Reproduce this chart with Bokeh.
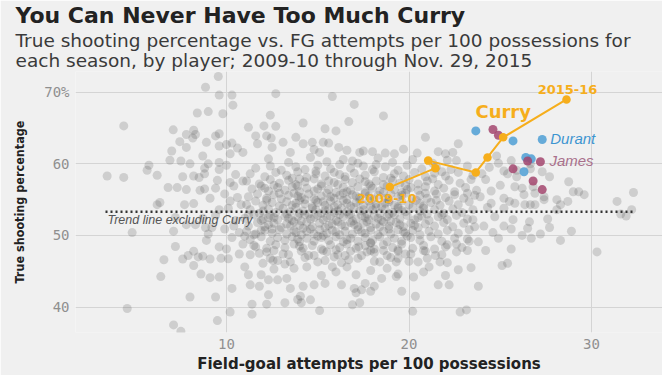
from bokeh.plotting import figure
from bokeh.models import Range1d, FixedTicker, Label, Title
from bokeh.embed import file_html
from bokeh.resources import INLINE

# ---------------- texts ----------------
title_text = "You Can Never Have Too Much Curry"
subtitle_lines = ["True shooting percentage vs. FG attempts per 100 possessions for",
                  "each season, by player; 2009-10 through Nov. 29, 2015"]
x_title = "Field-goal attempts per 100 possessions"
y_title = "True shooting percentage"
x_ticks = [10, 20, 30]
y_ticks = [40, 50, 60, 70]
y_tick_overrides = {70: "70%"}
trend_label = "Trend line excluding Curry"

# ---------------- highlighted players ----------------
curry_seasons = ["2009-10", "2010-11", "2011-12", "2012-13", "2013-14", "2014-15", "2015-16"]
curry_x = [18.95, 21.45, 21.05, 23.66, 24.3, 25.16, 28.63]
curry_y = [56.75, 59.4, 60.45, 58.8, 60.9, 63.7, 69.0]

durant_x = [23.66, 25.7, 27.3, 26.4, 26.7, 26.3]
durant_y = [64.6, 63.2, 63.4, 60.9, 60.7, 58.9]

james_x = [24.6, 24.9, 26.5, 27.2, 25.7, 26.8, 27.3]
james_y = [64.8, 64.0, 60.4, 60.3, 59.3, 57.6, 56.4]

trend_x = [3.37, 32.3]
trend_y = [53.3, 53.3]

# ---------------- all other player-seasons (x = FGA/100, y = TS%) ----------------
cloud_upper = [(9.55,72.2),(8.85,70.7),(9.6,69.6),(10.3,69.6),(10.35,68.2),(8.4,67.1),(9.0,67.3),(9.8,67.0),
 (4.37,65.3),(7.08,64.75),(7.8,64.1),(8.2,64.7),(8.3,64.1),(8.15,63.6),(9.4,63.9),(9.6,64.2),(7.44,63.1),
 (8.9,63.0),(9.6,62.5),(10.0,62.7),(10.3,62.9),(10.6,62.2),(10.9,61.6),(10.2,61.4),(7.0,61.8),(7.8,62.3),
 (8.7,61.1),(6.9,60.5),(7.5,60.4),(8.0,60.0),(9.0,60.0),(9.6,60.2),(5.75,59.8),
 (11.2,65.1),(12.05,65.3),(12.4,66.8),(12.7,65.25),(11.6,63.9),(12.2,63.9),(12.45,63.6),(11.7,62.8),(12.5,62.3),
 (12.7,69.8),(15.8,69.4),(17.0,68.3),(18.6,66.7),(14.2,65.7),(16.7,65.9),(15.4,64.9),(16.0,64.6),(13.8,63.7),
 (20.9,63.7),(22.7,62.8),(21.6,61.7),(22.4,61.6),(20.45,61.5),(19.7,62.05),
 (13.1,63.0),(14.7,63.0),(15.3,63.0),(15.6,62.9),(16.15,62.3),(17.3,61.6),(18.0,61.7),(18.7,61.5),(14.2,62.8),
 (13.5,61.6),(14.8,62.0),(15.1,61.6),(16.6,61.9),(17.5,61.8),(19.2,61.4),(22.0,61.4),(22.6,60.45),
 (24.8,61.1),(24.9,60.1),(25.6,60.45)]

cloud_left = [(5.65,59.1),(6.2,58.4),(3.46,58.3),(4.37,58.1),(7.6,58.2),(8.2,58.3),(8.5,58.1),(8.8,58.6),
 (6.8,56.7),(7.3,56.7),(7.8,56.4),(8.55,56.3),(8.8,56.5),(9.4,56.6),(8.8,59.4),(9.6,59.2),(10.0,59.8),
 (10.5,58.5),(10.9,57.6),(10.4,56.9),(9.9,55.8),(10.6,55.3),(10.2,54.8),
 (6.2,54.3),(6.35,54.6),(7.7,54.3),(8.2,54.45),(4.83,50.4),(7.1,50.6),(7.2,48.45),(6.57,46.6),(7.6,46.7),
 (7.9,47.2),(8.2,47.8),(8.45,47.0),(8.7,47.1),(9.1,46.7),(8.2,45.8),(8.6,44.6),(9.1,44.1),(9.6,44.2),(6.4,44.25),
 (8.85,51.1),(9.0,50.2),(8.9,49.3),(9.6,48.4),(10.0,48.1),(10.1,46.75),(10.7,47.4),(9.7,46.8),(9.2,51.1),
 (9.9,50.9),(10.3,49.7),(10.9,48.8),(8.3,51.5),(7.8,51.5),(8.7,52.4),(9.4,52.8),(7.2,52.5),(10.1,53.8),
 (10.8,54.3),(10.5,52.1),(9.6,53.6),(9.1,55.2),(10.4,51.3),(10.7,50.4),(9.5,57.7),(10.2,57.4)]

cloud_lower = [(4.56,39.8),(7.1,37.5),(7.5,36.6),(9.5,38.1),(10.2,39.3),(11.4,39.0),(11.4,40.4),(12.2,40.4),
 (14.1,40.6),(14.6,41.0),(15.1,39.5),(16.9,40.3),(17.3,40.6),(20.2,39.4),(22.8,39.3),(23.15,39.6),(8.0,41.4),
 (9.4,41.4),(20.35,41.5),(19.6,42.2),(13.2,40.6),(13.9,41.05),(14.05,41.5),(21.6,43.1),(22.2,43.1),(22.0,44.4),
 (20.25,44.2),(23.8,42.9),(23.4,45.5),(10.3,42.6),(11.3,43.1),(11.8,42.9),(12.3,41.7),(11.2,44.5),(11.9,44.5),
 (12.3,43.8),(11.0,45.6),(15.4,43.3),(16.3,43.1),(14.8,43.1),(14.2,42.9),(13.5,42.6),(12.8,43.8),(13.3,44.0),
 (17.1,42.0),(17.4,42.4),(17.9,42.2),(18.1,42.9),(17.6,43.3),(17.0,42.6),(18.8,45.4),(19.3,44.25),(19.4,44.6),
 (13.7,45.4),(14.4,45.6),(15.8,45.6),(16.0,44.9),(16.6,45.6),(17.1,44.5),(17.9,45.1),(21.1,45.6),(15.2,44.4),
 (18.5,44.0),(20.8,44.9),(22.7,45.2),(12.6,45.3)]

cloud_midlow = [(12.8,46.5),(13.2,46.0),(15.0,46.3),(18.4,46.3),(13.1,47.4),(14.5,47.2),(15.3,47.9),(16.5,47.2),
 (17.25,48.4),(17.7,47.7),(18.6,47.9),(19.8,47.4),(20.8,47.9),(21.45,47.2),(22.0,48.4),(22.6,48.8),(23.2,47.9),
 (20.5,46.3),(21.7,46.3),(19.3,46.3),(19.4,46.8),(12.0,46.1),(12.55,46.5),(11.3,47.3),(11.6,48.4),(12.2,47.7),
 (11.9,52.1),(12.3,52.5),(11.9,50.7),(12.5,50.9),(11.5,50.1),(11.0,49.9),(11.2,52.8)]

cloud_right = [(25.9,59.1),(25.2,59.0),(26.65,60.0),(27.3,58.9),(28.75,57.5),(25.9,58.2),(26.65,59.3),(27.7,58.2),
 (26.8,56.8),(26.3,55.7),(25.8,54.5),(26.65,54.3),(27.4,55.0),(28.1,53.6),(29.0,56.1),(29.3,56.1),(29.6,55.7),
 (31.4,54.75),(31.9,52.7),(32.3,56.0),(32.2,53.6),(31.6,53.0),(30.3,47.7),(28.9,50.6),(28.3,49.3),(27.7,51.1),
 (27.6,52.3),(28.3,54.3),(28.7,54.75),(28.1,55.0),(26.6,51.9),(26.5,51.0),(26.2,50.0),(26.7,49.6),(25.6,48.1),
 (25.1,45.8),(25.4,46.1),(24.2,47.9),(23.2,49.5),(23.8,49.1),(24.6,50.4),(24.1,51.3),(23.5,52.2),(23.2,55.9),
 (23.9,55.4),(24.5,54.5),(25.2,55.2),(25.2,53.8),(25.5,54.75),(25.7,52.2),(25.2,51.3),(25.6,50.9),(26.35,54.3),
 (26.9,54.3),(25.8,56.8),(26.2,56.6),(26.9,55.9),(27.4,55.4),(24.2,57.8),(24.0,58.6),(25.4,58.6),(25.0,57.0),
 (24.5,56.2),(24.7,52.6),(24.3,53.9),(24.9,49.6),(27.2,50.2),(24.4,59.5)]

cloud_core_top = [(12.3,60.7),(13.4,60.2),(14.6,60.9),(15.5,60.3),(16.4,60.6),(17.2,60.1),(18.3,60.8),(19.1,60.2),
 (20.2,60.6),(21.3,60.1),(22.1,60.5),(16.9,60.4),
 (11.6,59.4),(12.4,59.7),(13.0,59.1),(13.8,59.6),(14.3,59.2),(15.0,59.8),(15.7,59.3),(16.2,59.9),(16.8,59.4),
 (17.5,59.7),(18.0,59.2),(18.7,59.6),(19.4,59.1),(19.9,59.8),(20.7,59.3),(21.5,59.6),(22.3,59.2),(23.2,59.7),
 (14.9,59.0),(18.2,59.9),
 (11.3,58.6),(12.1,58.2),(12.7,58.8),(13.3,58.4),(13.9,58.9),(14.4,58.1),(14.9,58.6),(15.4,58.3),(15.9,58.8),
 (16.5,58.2),(17.0,58.7),(17.6,58.4),(18.1,58.9),(18.6,58.1),(19.2,58.6),(19.7,58.3),(20.3,58.8),(20.9,58.2),
 (21.4,58.7),(22.0,58.3),(22.7,58.8),(23.5,58.4),(16.2,58.5),(13.6,58.0),(19.0,58.0),(21.8,58.9),
 (11.1,57.6),(11.8,57.2),(12.4,57.8),(12.9,57.3),(13.4,57.7),(13.8,57.1),(14.3,57.5),(14.8,57.9),(15.2,57.2),
 (15.6,57.6),(16.1,57.1),(16.5,57.8),(16.9,57.4),(17.3,57.9),(17.8,57.2),(18.2,57.6),(18.6,57.1),(19.1,57.7),
 (19.5,57.3),(20.0,57.8),(20.5,57.2),(21.0,57.6),(21.6,57.1),(22.2,57.7),(22.8,57.3),(23.4,57.8),(14.0,57.9),
 (15.9,57.4),(17.6,57.5),(19.8,57.0),(12.6,57.0),(21.3,57.9),
 (11.4,56.5),(11.9,56.9),(12.3,56.2),(12.8,56.7),(13.2,56.3),(13.6,56.8),(14.0,56.1),(14.4,56.6),(14.8,56.2),
 (15.2,56.9),(15.6,56.4),(16.0,56.0),(16.4,56.7),(16.8,56.3),(17.2,56.8),(17.6,56.1),(18.0,56.6),(18.4,56.2),
 (18.8,56.9),(19.2,56.4),(19.6,56.0),(20.1,56.7),(20.5,56.3),(20.9,56.8),(21.4,56.2),(21.9,56.6),(22.5,56.1),
 (23.1,56.7),(23.7,56.3),(15.0,56.5),(16.6,56.1),(17.9,56.9),(13.9,56.9),(19.9,56.4),(12.1,56.6),(18.6,56.0)]

cloud_core_mid = [(11.2,55.4),(11.7,55.8),(12.2,55.2),(12.6,55.7),(13.0,55.1),(13.4,55.6),(13.7,55.9),(14.1,55.3),
 (14.5,55.8),(14.8,55.1),(15.2,55.5),(15.5,55.9),(15.9,55.2),(16.2,55.6),(16.6,55.0),(16.9,55.7),(17.3,55.3),
 (17.6,55.9),(18.0,55.1),(18.3,55.6),(18.7,55.2),(19.0,55.8),(19.4,55.4),(19.8,55.9),(20.2,55.1),(20.6,55.6),
 (21.0,55.2),(21.5,55.8),(22.0,55.3),(22.5,55.7),(23.0,55.2),(23.6,55.6),(13.9,55.5),(15.7,55.4),(17.1,55.5),
 (18.9,55.0),(14.3,55.0),(16.4,55.9),(19.6,55.6),(12.9,55.9),(20.9,55.9),(17.8,55.5),
 (11.1,54.3),(11.6,54.8),(12.0,54.2),(12.5,54.6),(12.9,54.1),(13.3,54.7),(13.6,54.2),(14.0,54.9),(14.3,54.4),
 (14.7,54.0),(15.0,54.6),(15.4,54.2),(15.7,54.8),(16.1,54.3),(16.4,54.9),(16.8,54.1),(17.1,54.6),(17.5,54.2),
 (17.8,54.8),(18.2,54.4),(18.5,54.0),(18.9,54.7),(19.2,54.2),(19.6,54.8),(20.0,54.3),(20.4,54.9),(20.8,54.1),
 (21.2,54.6),(21.7,54.2),(22.2,54.8),(22.7,54.3),(23.3,54.7),(13.8,54.5),(15.9,54.0),(17.3,54.9),(18.7,54.5),
 (14.9,54.9),(16.6,54.5),(19.4,54.0),(12.2,54.9),(20.6,54.5),(15.3,54.7),(17.9,54.1),(21.5,54.9),
 (11.3,53.6),(11.8,53.1),(12.3,53.7),(12.7,53.2),(13.1,53.8),(13.5,53.3),(13.8,53.9),(14.2,53.4),(14.5,53.0),
 (14.9,53.6),(15.2,53.1),(15.6,53.7),(15.9,53.2),(16.3,53.8),(16.6,53.3),(17.0,53.9),(17.3,53.4),(17.7,53.0),
 (18.0,53.6),(18.4,53.1),(18.7,53.7),(19.1,53.2),(19.4,53.8),(19.8,53.3),(20.2,53.9),(20.6,53.4),(21.0,53.0),
 (21.4,53.6),(21.9,53.1),(22.4,53.7),(22.9,53.2),(23.5,53.6),(14.0,53.1),(15.4,53.5),(16.8,53.0),(18.2,53.9),
 (13.3,53.0),(17.5,53.6),(19.6,53.5),(16.1,53.4),(20.8,53.8),(14.7,53.8),(18.9,53.0),(12.0,53.4),
 (11.0,52.4),(11.5,52.9),(12.0,52.3),(12.4,52.8),(12.8,52.2),(13.2,52.7),(13.6,52.1),(13.9,52.6),(14.3,52.9),
 (14.6,52.3),(15.0,52.8),(15.3,52.2),(15.7,52.7),(16.0,52.1),(16.4,52.6),(16.7,52.9),(17.1,52.3),(17.4,52.8),
 (17.8,52.2),(18.1,52.7),(18.5,52.1),(18.8,52.6),(19.2,52.9),(19.5,52.3),(19.9,52.8),(20.3,52.2),(20.7,52.7),
 (21.1,52.1),(21.6,52.6),(22.1,52.2),(22.6,52.8),(23.2,52.3),(13.4,52.4),(15.5,52.5),(17.6,52.5),(19.0,52.0),
 (14.1,52.0),(16.2,52.9),(18.3,52.4),(20.5,52.5),(12.6,52.5),(14.8,52.5),(16.9,52.0),(21.8,52.9)]

cloud_core_low = [(11.2,51.3),(11.7,51.8),(12.1,51.2),(12.6,51.7),(13.0,51.1),(13.3,51.6),(13.7,51.9),(14.0,51.4),
 (14.4,51.8),(14.7,51.2),(15.1,51.7),(15.4,51.1),(15.8,51.6),(16.1,51.9),(16.5,51.3),(16.8,51.8),(17.2,51.2),
 (17.5,51.7),(17.9,51.1),(18.2,51.6),(18.6,51.9),(18.9,51.3),(19.3,51.8),(19.7,51.2),(20.1,51.7),(20.5,51.1),
 (20.9,51.6),(21.4,51.3),(21.9,51.8),(22.4,51.2),(23.0,51.7),(23.6,51.2),(13.5,51.3),(15.6,51.4),(17.0,51.5),
 (18.4,51.2),(14.2,51.0),(16.3,51.5),(19.5,51.5),(12.3,51.5),(20.3,51.4),(17.7,51.9),
 (11.1,50.6),(11.6,50.2),(12.1,50.7),(12.5,50.3),(12.9,50.8),(13.3,50.2),(13.7,50.7),(14.1,50.1),(14.4,50.6),
 (14.8,50.2),(15.1,50.8),(15.5,50.3),(15.8,50.7),(16.2,50.1),(16.5,50.6),(16.9,50.2),(17.2,50.8),(17.6,50.3),
 (17.9,50.7),(18.3,50.1),(18.6,50.6),(19.0,50.2),(19.4,50.8),(19.8,50.3),(20.2,50.7),(20.6,50.1),(21.1,50.6),
 (21.6,50.2),(22.1,50.7),(22.7,50.3),(23.3,50.8),(14.6,50.9),(16.0,50.5),(17.4,50.5),(18.9,50.9),(13.8,50.4),
 (15.3,50.0),(19.7,50.5),
 (11.3,49.4),(11.9,49.8),(12.4,49.2),(12.8,49.7),(13.2,49.3),(13.6,49.8),(14.0,49.1),(14.4,49.6),(14.8,49.2),
 (15.2,49.7),(15.6,49.3),(16.0,49.8),(16.4,49.1),(16.8,49.6),(17.2,49.2),(17.6,49.7),(18.0,49.3),(18.4,49.8),
 (18.8,49.1),(19.2,49.6),(19.6,49.2),(20.1,49.7),(20.6,49.3),(21.2,49.8),(21.8,49.2),(22.5,49.6),(23.3,49.2),
 (15.0,49.9),(16.6,49.4),(17.9,49.0),(13.9,49.5),(19.9,49.9),
 (11.5,48.6),(12.2,48.2),(12.7,48.7),(13.2,48.3),(13.7,48.8),(14.2,48.2),(14.7,48.6),(15.2,48.1),(15.7,48.7),
 (16.2,48.3),(16.6,48.8),(17.1,48.2),(17.6,48.6),(18.1,48.1),(18.6,48.7),(19.1,48.3),(19.6,48.8),(20.2,48.2),
 (20.8,48.6),(21.4,48.1),(22.1,48.7),(22.9,48.3),(14.0,48.5),(16.0,48.0),(17.9,48.9),(19.4,48.0),
 (11.8,47.5),(12.6,47.9),(13.4,47.3),(14.1,47.8),(14.8,47.2),(15.5,47.7),(16.1,47.3),(16.8,47.8),(17.4,47.2),
 (18.1,47.6),(18.8,47.2),(19.4,47.8),(20.1,47.4),(20.9,47.8),(21.8,47.3),(22.6,47.7),(15.9,47.0),(17.9,47.9),
 (12.4,46.8),(13.5,46.3),(14.3,46.9),(15.4,46.5),(16.3,46.2),(17.2,46.8),(18.1,46.4),(19.0,46.9),(20.0,46.4),
 (21.0,46.8),(22.1,46.2),(16.7,46.6)]

# ---------------- styles ----------------
BG = "#f0f0f0"
ORANGE = "#f6ae1c"
BLUE = "#56a3d6"
BLUE_TXT = "#3d95d0"
PURPLE = "#a3466f"
PURPLE_TXT = "#a9708c"
GRAY_DOT = "#505050"

p = figure(width=662, height=375, output_backend="svg", toolbar_location=None, title=None,
           x_range=Range1d(1.726, 33.89), y_range=Range1d(36.44, 72.9),
           min_border_left=75, min_border_right=0, min_border_top=0, min_border_bottom=0)
p.background_fill_color = BG
p.border_fill_color = BG
p.outline_line_color = None

# stacked title block (first added = closest to the plot)
p.add_layout(Title(text=subtitle_lines[0] + "\n" + subtitle_lines[1], align="left", offset=-60, standoff=0,
                   text_font="DejaVu Sans", text_font_size="18.5px", text_font_style="normal",
                   text_line_height=0.98, text_color="#3a3a3a"), "above")
p.add_layout(Title(text=title_text, align="left", offset=-60, standoff=0,
                   text_font="DejaVu Sans", text_font_size="22px", text_font_style="bold",
                   text_color="#222222"), "above")

for ax in (p.xaxis, p.yaxis):
    ax.axis_line_color = None
    ax.major_tick_line_color = None
    ax.minor_tick_line_color = None
    ax.major_tick_in = 0
    ax.major_tick_out = 0
    ax.minor_tick_in = 0
    ax.minor_tick_out = 0
    ax.major_label_text_font = "DejaVu Sans Mono"
    ax.major_label_text_font_size = "14px"
    ax.major_label_text_color = "#8f8f8f"
    ax.axis_label_text_color = "#222222"
    ax.axis_label_text_font_style = "bold"
p.xaxis.ticker = FixedTicker(ticks=x_ticks)
p.yaxis.ticker = FixedTicker(ticks=y_ticks)
p.yaxis.major_label_overrides = y_tick_overrides
p.xaxis.major_label_standoff = 6
p.yaxis.major_label_standoff = 6
p.xaxis.axis_label = x_title
p.xaxis.axis_label_text_font = "DejaVu Sans"
p.xaxis.axis_label_text_font_size = "15px"
p.xaxis.axis_label_standoff = 3
p.yaxis.axis_label = y_title
p.yaxis.axis_label_text_font = "DejaVu Sans Condensed, Roboto"
p.yaxis.axis_label_text_font_size = "12.5px"
p.yaxis.axis_label_standoff = 14
p.xgrid.ticker = FixedTicker(ticks=x_ticks)
p.ygrid.ticker = FixedTicker(ticks=y_ticks)
p.grid.grid_line_color = "#d4d4d4"
p.grid.grid_line_width = 1

others = cloud_upper + cloud_left + cloud_lower + cloud_midlow + cloud_right + cloud_core_top + cloud_core_mid + cloud_core_low
other_x = [pt[0] for pt in others]
other_y = [pt[1] for pt in others]
p.scatter(other_x, other_y, size=9, fill_color=GRAY_DOT, fill_alpha=0.21, line_color=None)

p.line(trend_x, trend_y, line_color="#333333", line_width=2.5, line_dash="2 3")

p.scatter(durant_x, durant_y, size=9, fill_color=BLUE, fill_alpha=0.9, line_color=None)
p.scatter(james_x, james_y, size=9, fill_color=PURPLE, fill_alpha=0.85, line_color=None)

p.line(curry_x, curry_y, line_color=ORANGE, line_width=2)
p.scatter(curry_x, curry_y, size=8.5, fill_color=ORANGE, line_color=None)

# in-chart labels anchored to data points
p.add_layout(Label(x=curry_x[-1], y=curry_y[-1], text=curry_seasons[-1], x_offset=1, y_offset=10,
                   text_align="center", text_baseline="middle", text_font="DejaVu Sans",
                   text_font_style="bold", text_font_size="13px", text_color=ORANGE))
p.add_layout(Label(x=curry_x[0], y=curry_y[0], text=curry_seasons[0], x_offset=-3, y_offset=-11,
                   text_align="center", text_baseline="middle", text_font="DejaVu Sans",
                   text_font_style="bold", text_font_size="13px", text_color=ORANGE))
p.add_layout(Label(x=curry_x[5], y=curry_y[5], text="Curry", x_offset=0, y_offset=26,
                   text_align="center", text_baseline="middle", text_font="DejaVu Sans",
                   text_font_style="bold", text_font_size="18px", text_color=ORANGE))
p.add_layout(Label(x=durant_x[2], y=durant_y[2], text="Durant", x_offset=8, y_offset=1,
                   text_align="left", text_baseline="middle", text_font="Liberation Sans",
                   text_font_style="italic", text_font_size="15px", text_color=BLUE_TXT))
p.add_layout(Label(x=james_x[3], y=james_y[3], text="James", x_offset=9, y_offset=1,
                   text_align="left", text_baseline="middle", text_font="Liberation Sans",
                   text_font_style="italic", text_font_size="15px", text_color=PURPLE_TXT))
p.add_layout(Label(x=trend_x[0], y=trend_y[0], text=trend_label, x_offset=2, y_offset=-8,
                   text_align="left", text_baseline="middle", text_font="Liberation Sans",
                   text_font_style="italic", text_font_size="12.5px", text_color="#555555"))

open("out.html", "w").write(file_html(p, INLINE))
